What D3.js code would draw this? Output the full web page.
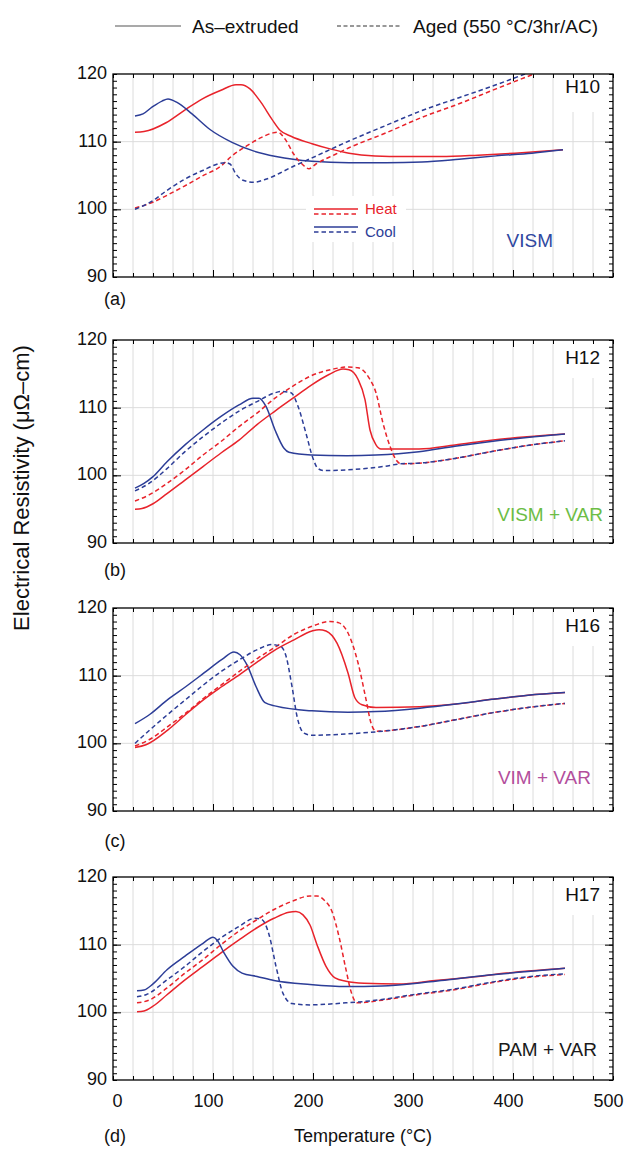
<!DOCTYPE html>
<html><head><meta charset="utf-8">
<script src="https://cdn.jsdelivr.net/npm/d3@7"></script>
<style>
html,body{margin:0;padding:0;background:#fff;}
svg{display:block;font-family:"Liberation Sans",Arial,Helvetica,sans-serif;}
</style></head>
<body>
<svg id="chart" width="626" height="1149"></svg>
<script>
// ---------- data (temperature °C, resistivity µΩ-cm) ----------
const xTickValues = [0, 100, 200, 300, 400, 500];
const yTickValues = [90, 100, 110, 120];
const panelNames = ["H10", "H12", "H16", "H17"];
const processNames = ["VISM", "VISM + VAR", "VIM + VAR", "PAM + VAR"];
const processColors = ["#2f48a0", "#6cbd45", "#b34e9c", "#1a1a1a"];
const panelLetters = ["(a)", "(b)", "(c)", "(d)"];
const legendItems = ["As\u2013extruded", "Aged (550 \u00B0C/3hr/AC)"];

// H10
const h10HeatAs = [[22,111.4],[31,111.5],[53,112.8],[71,114.6],[89,116.3],[108,117.6],[123,118.4],[128,118.4],[137,117.8],[148,115.8],[159,113.3],[167,111.7],[178,110.8],[199,109.7],[218,108.9],[236,108.3],[262,107.9],[291,107.8],[328,107.8],[365,108.0],[402,108.3],[450,108.8]];
const h10CoolAs = [[22,113.8],[30,114.1],[39,115.1],[49,116.0],[55,116.3],[64,115.8],[79,114.1],[97,111.8],[119,109.9],[141,108.6],[163,107.8],[199,107.1],[236,106.9],[273,106.9],[309,107.0],[346,107.4],[383,107.9],[419,108.3],[450,108.8]];
const h10HeatAged = [[22,100.2],[39,101.0],[53,102.0],[71,103.4],[89,104.9],[108,106.4],[119,107.9],[134,109.4],[148,110.6],[160,111.3],[165,111.4],[172,110.4],[181,108.1],[189,106.7],[196,106.0],[203,106.7],[222,108.1],[236,109.1],[273,111.3],[309,113.6],[346,115.6],[383,117.8],[421,120.0]];
const h10CoolAged = [[22,100.0],[39,101.2],[53,102.7],[71,104.4],[89,105.7],[112,106.9],[117,106.7],[123,105.2],[130,104.3],[141,104.0],[152,104.4],[181,106.4],[199,107.6],[236,110.1],[273,112.4],[309,114.6],[346,116.5],[383,118.4],[412,120.0]];

// H12
const h12HeatAs = [[22,95.0],[29,95.1],[40,95.8],[54,97.3],[72,99.3],[90,101.3],[108,103.3],[126,105.2],[144,107.5],[162,109.5],[180,111.4],[198,113.3],[216,114.9],[230,115.7],[236,115.6],[245,114.2],[252,111.2],[257,106.7],[263,104.5],[268,103.9],[288,103.9],[306,103.9],[342,104.5],[378,105.2],[414,105.7],[452,106.1]];
const h12CoolAs = [[22,98.1],[31,98.8],[40,99.8],[54,102.0],[72,104.5],[90,106.7],[108,108.7],[126,110.4],[140,111.4],[146,111.4],[153,110.2],[162,106.7],[171,104.0],[176,103.4],[198,103.0],[234,102.9],[263,103.0],[306,103.5],[342,104.3],[378,105.0],[414,105.6],[452,106.1]];
const h12HeatAged = [[22,96.2],[36,97.1],[54,98.8],[72,100.8],[90,103.0],[108,105.0],[126,107.2],[144,109.2],[162,111.4],[180,113.2],[198,114.7],[220,115.7],[234,116.0],[245,115.9],[256,114.4],[263,112.2],[270,107.7],[277,104.3],[283,102.3],[288,101.7],[306,101.8],[342,102.5],[378,103.5],[414,104.4],[452,105.1]];
const h12CoolAged = [[22,97.7],[36,98.8],[54,101.0],[72,103.5],[90,105.7],[108,107.7],[126,109.5],[144,110.9],[162,112.2],[169,112.4],[178,112.2],[185,110.2],[193,106.2],[200,102.5],[205,101.0],[211,100.7],[234,100.8],[270,101.3],[288,101.7],[306,101.8],[342,102.5],[378,103.5],[414,104.4],[452,105.1]];

// H16
const h16HeatAs = [[22,99.4],[33,99.8],[55,102.0],[73,104.3],[91,106.5],[109,108.4],[127,110.2],[145,112.1],[163,113.9],[181,115.3],[199,116.6],[206,116.8],[213,116.6],[224,114.8],[235,110.4],[242,106.7],[249,105.7],[263,105.3],[307,105.4],[343,105.8],[379,106.5],[415,107.1],[452,107.5]];
const h16CoolAs = [[22,102.9],[37,104.3],[55,106.5],[73,108.4],[91,110.4],[109,112.4],[121,113.5],[127,113.1],[134,111.6],[143,108.4],[152,106.0],[163,105.5],[199,104.8],[235,104.6],[263,104.7],[307,105.2],[343,105.8],[379,106.5],[415,107.1],[452,107.5]];
const h16HeatAged = [[22,99.6],[37,100.6],[55,102.5],[73,104.5],[91,106.7],[109,108.7],[127,110.7],[145,112.6],[163,114.3],[181,116.1],[199,117.3],[217,118.0],[226,117.8],[235,116.3],[245,111.9],[253,106.5],[258,103.0],[263,101.8],[307,102.5],[343,103.5],[379,104.5],[415,105.3],[452,105.9]];
const h16CoolAged = [[22,100.0],[37,102.0],[55,104.3],[73,106.5],[91,108.7],[109,110.7],[127,112.4],[145,113.9],[159,114.6],[168,114.3],[173,112.9],[179,108.4],[184,104.0],[191,101.5],[199,101.2],[235,101.4],[263,101.7],[307,102.5],[343,103.5],[379,104.5],[415,105.3],[452,105.9]];

// H17
const h17HeatAs = [[24,100.1],[31,100.2],[40,100.9],[54,102.6],[72,104.8],[90,106.8],[108,108.8],[126,110.7],[144,112.5],[161,113.9],[176,114.8],[183,114.9],[190,114.4],[197,112.9],[204,110.0],[213,106.8],[222,105.1],[233,104.6],[251,104.3],[286,104.2],[322,104.7],[358,105.2],[394,105.8],[452,106.5]];
const h17CoolAs = [[24,103.2],[31,103.3],[40,104.2],[54,106.3],[72,108.3],[90,110.2],[100,111.1],[104,110.7],[111,108.8],[120,106.8],[129,105.8],[144,105.3],[161,104.7],[197,104.1],[233,103.8],[269,103.9],[304,104.3],[340,104.9],[376,105.5],[412,106.0],[452,106.5]];
const h17HeatAged = [[24,101.4],[36,101.8],[54,103.6],[72,105.8],[90,107.8],[108,110.0],[126,112.0],[144,113.7],[161,115.2],[179,116.4],[197,117.2],[204,117.2],[211,116.6],[219,114.9],[226,111.2],[233,106.3],[238,103.1],[244,101.4],[269,101.8],[304,102.6],[340,103.3],[376,104.3],[411,105.1],[452,105.6]];
const h17CoolAged = [[24,102.3],[33,102.6],[54,104.8],[72,106.8],[90,109.0],[108,111.0],[126,112.7],[142,113.9],[149,113.7],[156,111.5],[163,106.8],[170,102.8],[179,101.3],[197,101.1],[233,101.4],[251,101.6],[269,101.9],[304,102.7],[340,103.4],[376,104.4],[411,105.2],[452,105.7]];

// ---------- layout ----------
const plotLeft = 113, plotRight = 613, plotH = 203;
const panelTops = [74, 340, 608, 877];
const RED = "#e8232b", BLUE = "#2c3d97";
const GRID = "#dcdcdc";

const panels = [
  {series:[h10HeatAs,h10CoolAs,h10HeatAged,h10CoolAged]},
  {series:[h12HeatAs,h12CoolAs,h12HeatAged,h12CoolAged]},
  {series:[h16HeatAs,h16CoolAs,h16HeatAged,h16CoolAged]},
  {series:[h17HeatAs,h17CoolAs,h17HeatAged,h17CoolAged]}
];
const seriesStyle = [
  {color:RED, dash:null},{color:BLUE, dash:null},
  {color:RED, dash:"4.5,3"},{color:BLUE, dash:"4.5,3"}
];

const svg = d3.select("#chart");
const x = d3.scaleLinear().domain([0,500]).range([plotLeft, plotRight]);
const FS = 18;

// top legend
const lg = svg.append("g");
lg.append("line").attr("x1",115).attr("x2",181).attr("y1",26).attr("y2",26)
  .attr("stroke","#555").attr("stroke-width",1.2);
lg.append("text").attr("x",192).attr("y",26).attr("dy","0.35em")
  .attr("font-size",19).attr("fill","#111").text(legendItems[0]);
lg.append("line").attr("x1",337).attr("x2",402).attr("y1",26).attr("y2",26)
  .attr("stroke","#333").attr("stroke-width",1.2).attr("stroke-dasharray","4,2.5");
lg.append("text").attr("x",413).attr("y",26).attr("dy","0.35em")
  .attr("font-size",19).attr("fill","#111").text(legendItems[1]);

const gridX = d3.range(20, 500, 20);

panels.forEach((p, i) => {
  const top = panelTops[i], bottom = top + plotH;
  const y = d3.scaleLinear().domain([90,120]).range([bottom, top]);
  const g = svg.append("g");

  const clipId = "clip" + i;
  svg.append("clipPath").attr("id", clipId).append("rect")
    .attr("x", plotLeft).attr("y", top).attr("width", plotRight-plotLeft).attr("height", plotH);

  // grid
  g.append("g").selectAll("line").data(gridX).join("line")
    .attr("x1", d=>x(d)).attr("x2", d=>x(d)).attr("y1", top).attr("y2", bottom)
    .attr("stroke", GRID).attr("stroke-width", 1);
  g.append("g").selectAll("line").data([100,110]).join("line")
    .attr("x1", plotLeft).attr("x2", plotRight).attr("y1", d=>y(d)).attr("y2", d=>y(d))
    .attr("stroke", GRID).attr("stroke-width", 1);

  // white box behind panel name
  g.append("rect").attr("x", 560).attr("y", top+2).attr("width", 50).attr("height", 36).attr("fill","#fff");

  // inner ticks
  const minorY = d3.range(90,121,1);
  g.append("g").attr("transform",`translate(${plotLeft},0)`)
    .call(d3.axisRight(y).tickValues(minorY).tickSize(4).tickFormat(""));
  g.append("g").attr("transform",`translate(${plotLeft},0)`)
    .call(d3.axisRight(y).tickValues([100,110]).tickSize(8).tickFormat(""));
  g.append("g").attr("transform",`translate(${plotRight},0)`)
    .call(d3.axisLeft(y).tickValues(minorY).tickSize(4).tickFormat(""));
  g.append("g").attr("transform",`translate(${plotRight},0)`)
    .call(d3.axisLeft(y).tickValues([100,110]).tickSize(8).tickFormat(""));
  const minorX = d3.range(0,501,20);
  g.append("g").attr("transform",`translate(0,${top})`)
    .call(d3.axisBottom(x).tickValues(minorX).tickSize(4).tickFormat(""));
  g.append("g").attr("transform",`translate(0,${top})`)
    .call(d3.axisBottom(x).tickValues([100,200,300,400]).tickSize(7).tickFormat(""));
  g.append("g").attr("transform",`translate(0,${bottom})`)
    .call(d3.axisTop(x).tickValues(minorX).tickSize(4).tickFormat(""));
  g.append("g").attr("transform",`translate(0,${bottom})`)
    .call(d3.axisTop(x).tickValues([100,200,300,400]).tickSize(7).tickFormat(""));
  g.selectAll(".domain").remove();
  g.selectAll(".tick line").attr("stroke","#000").attr("stroke-width",1);

  // y labels
  const yl = g.append("g").attr("transform",`translate(${plotLeft},0)`)
    .call(d3.axisLeft(y).tickValues(yTickValues).tickSize(0).tickPadding(6));
  yl.select(".domain").remove();
  yl.selectAll("text").attr("font-size",FS).attr("font-family","Liberation Sans, Arial, sans-serif").attr("fill","#111").attr("dy","0.25em");

  // curves
  const line = d3.line().x(d=>x(d[0])).y(d=>y(d[1])).curve(d3.curveMonotoneX);
  const cg = g.append("g").attr("clip-path",`url(#${clipId})`);
  p.series.forEach((s, k) => {
    cg.append("path").datum(s).attr("d", line).attr("fill","none")
      .attr("stroke", seriesStyle[k].color).attr("stroke-width",1.5)
      .attr("stroke-dasharray", seriesStyle[k].dash);
  });

  // frame
  g.append("rect").attr("x",plotLeft).attr("y",top).attr("width",plotRight-plotLeft).attr("height",plotH)
    .attr("fill","none").attr("stroke","#000").attr("stroke-width",1.3);

  // panel name
  g.append("text").attr("x", 600).attr("y", top + (i===0?19:24)).attr("text-anchor","end")
    .attr("font-size",19).attr("fill","#111").text(panelNames[i]);
  // process label
  const procY = [240, 514, 777, 1049][i];
  const procX = [553, 603, 591, 597][i];
  g.append("text").attr("x", procX).attr("y", procY).attr("dy","0.35em").attr("text-anchor","end")
    .attr("font-size",19).attr("fill",processColors[i]).text(processNames[i]);
  // panel letter
  const letY = [299, 570, 841, 1136][i];
  g.append("text").attr("x",115).attr("y",letY).attr("dy","0.35em").attr("text-anchor","middle")
    .attr("font-size",FS).attr("fill","#111").text(panelLetters[i]);

  if (i === 0) {
    g.append("rect").attr("x",306).attr("y",196).attr("width",100).attr("height",46).attr("fill","#fff");
    const items = [[RED,null,209],[RED,"4.5,3",214],[BLUE,null,227],[BLUE,"4.5,3",232]];
    g.selectAll(".leg").data(items).join("line")
      .attr("x1",314).attr("x2",358).attr("y1",d=>d[2]).attr("y2",d=>d[2])
      .attr("stroke",d=>d[0]).attr("stroke-width",1.3).attr("stroke-dasharray",d=>d[1]);
    g.append("text").attr("x",365).attr("y",209).attr("dy","0.35em").attr("font-size",15).attr("fill",RED).text("Heat");
    g.append("text").attr("x",365).attr("y",232).attr("dy","0.35em").attr("font-size",15).attr("fill",BLUE).text("Cool");
  }

  if (i === 3) {
    const xl = g.append("g").attr("transform",`translate(0,${bottom})`)
      .call(d3.axisBottom(x).tickValues(xTickValues).tickSize(0).tickPadding(14));
    xl.select(".domain").remove();
    xl.selectAll("text").attr("font-size",FS).attr("font-family","Liberation Sans, Arial, sans-serif").attr("fill","#111")
      .attr("dx", d => d === 0 ? 4 : -5);
  }
});

// axis titles
svg.append("text").attr("x", (plotLeft+plotRight)/2).attr("y",1136).attr("dy","0.35em")
  .attr("text-anchor","middle").attr("font-size",FS).attr("fill","#111").text("Temperature (\u00B0C)");
svg.append("text").attr("transform","translate(21,488) rotate(-90)").attr("dy","0.35em")
  .attr("text-anchor","middle").attr("font-size",22).attr("fill","#111")
  .text("Electrical Resistivity (\u03BC\u03A9\u2013cm)");
</script>
</body></html>
